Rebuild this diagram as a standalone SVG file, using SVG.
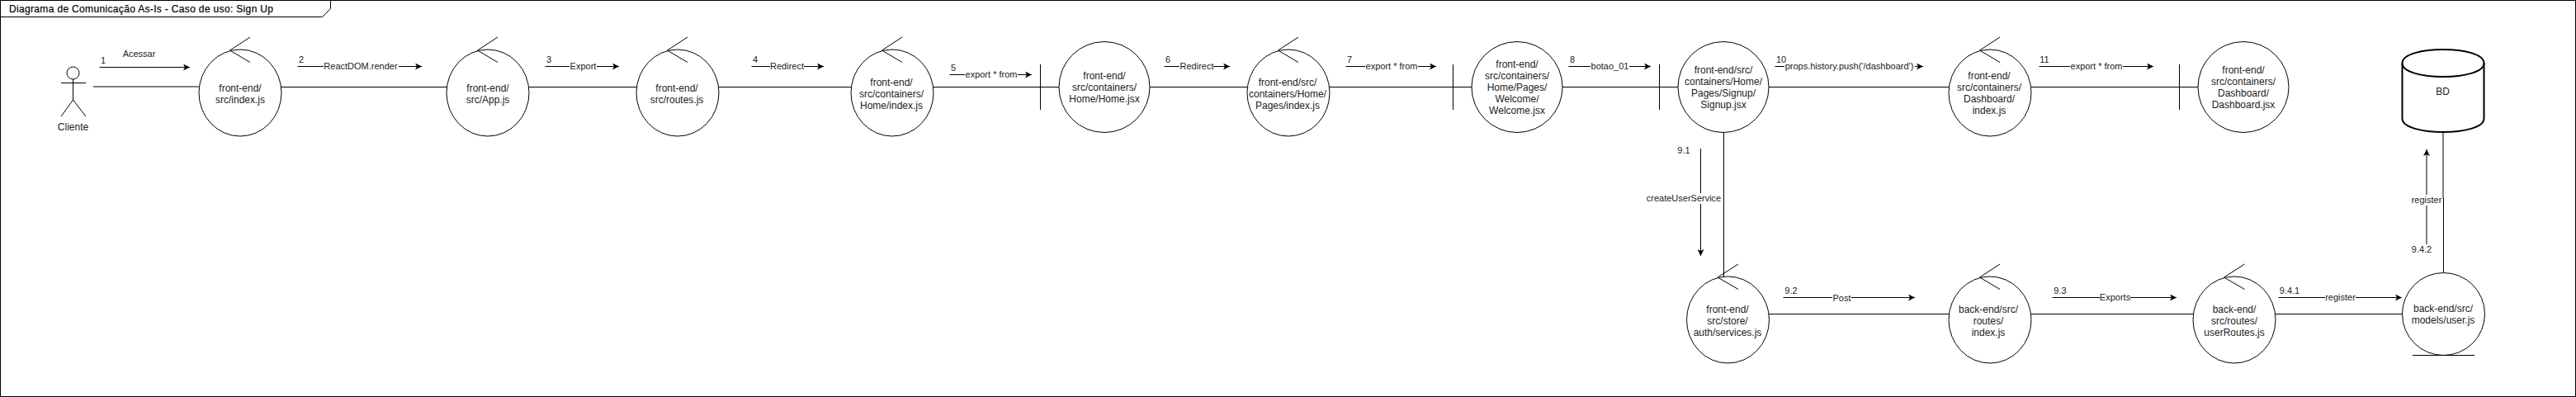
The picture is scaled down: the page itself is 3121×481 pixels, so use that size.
<svg xmlns="http://www.w3.org/2000/svg" width="3121" height="481" viewBox="0 0 3121 481">
<defs>
<marker id="arrow" markerUnits="userSpaceOnUse" viewBox="-8 -4 8 8" refX="0" refY="0" markerWidth="8" markerHeight="8" orient="auto"><path d="M-8,-4 L0,0 L-8,4 L-6,0 Z" fill="#000"/></marker>
</defs>
<style>
text{font-family:"Liberation Sans",Arial,sans-serif;fill:#222;text-anchor:middle;dominant-baseline:central}
.n{font-size:12px}
.e{font-size:11px}
.s{fill:#fff;stroke:#000;stroke-width:1}
.l{fill:none;stroke:#000;stroke-width:1}
.m{marker-end:url(#arrow)}
.b{fill:#fff;stroke:none}
</style>
<rect x="0.5" y="0.5" width="3120" height="480" fill="#fff" stroke="#000"/>
<g id="frame-title">
<path d="M0.5,0.5 H400.5 V10.5 L390.5,20.5 H0.5 Z" fill="#fff" stroke="#000"/>
<text x="171" y="11" class="n" textLength="320" lengthAdjust="spacing" style="fill:#000;stroke:#000;stroke-width:0.2">Diagrama de Comunicação As-Is - Caso de uso: Sign Up</text>
</g>
<g id="connectors">
<path class="l" d="M113,105 H241"/>
<path class="l" d="M341,105.5 H541 M641,105.5 H771 M871,105.5 H1031 M1131,105.5 H1283 M1393,105.5 H1511 M1611,105.5 H1783 M1893,105.5 H2033 M2143,105.5 H2361 M2461,105.5 H2663"/>
<path class="l" d="M2143,380.5 H2361 M2461,380.5 H2657 M2757,380.5 H2911"/>
<path class="l" d="M2088.5,160 V335"/>
<path class="l" d="M2960,160 V240 M2960.5,240 V330"/>
<path class="l m" d="M120.5,81.5 H230"/>
<path class="l m" d="M360.5,80.5 H511"/>
<path class="l m" d="M660.5,80.5 H750"/>
<path class="l m" d="M910.5,80.5 H998"/>
<path class="l m" d="M1150.5,90.5 H1250"/>
<path class="l m" d="M1410.5,80.5 H1490"/>
<path class="l m" d="M1630.5,80.5 H1740"/>
<path class="l m" d="M1900.5,80.5 H2000"/>
<path class="l m" d="M2150.5,80.5 H2330"/>
<path class="l m" d="M2470.5,80.5 H2609"/>
<path class="l m" d="M2060.5,180 V310"/>
<path class="l m" d="M2160.5,360.5 H2320"/>
<path class="l m" d="M2486.5,360.5 H2637"/>
<path class="l m" d="M2760.5,360.5 H2910"/>
<path class="l m" d="M2940,296 V181"/>
<rect class="b" x="392" y="74" width="91" height="13"/><text class="e" x="437" y="80">ReactDOM.render</text>
<rect class="b" x="690" y="74" width="33" height="13"/><text class="e" x="706.5" y="80">Export</text>
<rect class="b" x="933" y="74" width="41" height="13"/><text class="e" x="953.5" y="80">Redirect</text>
<rect class="b" x="1169" y="84" width="64" height="13"/><text class="e" x="1201" y="90">export * from</text>
<rect class="b" x="1429" y="74" width="41" height="13"/><text class="e" x="1450" y="80">Redirect</text>
<rect class="b" x="1654" y="74" width="64" height="13"/><text class="e" x="1686" y="80">export * from</text>
<rect class="b" x="1927" y="74" width="47" height="13"/><text class="e" x="1950.5" y="80">botao_01</text>
<rect class="b" x="2162" y="74" width="158" height="13"/><text class="e" x="2240.5" y="80">props.history.push('/dashboard')</text>
<rect class="b" x="2508" y="74" width="64" height="13"/><text class="e" x="2540" y="80">export * from</text>
<rect class="b" x="1995" y="234" width="90" height="13"/><text class="e" x="2040" y="240">createUserService</text>
<rect class="b" x="2220" y="354" width="23" height="13"/><text class="e" x="2231.5" y="361">Post</text>
<rect class="b" x="2544" y="354" width="37" height="13"/><text class="e" x="2562.5" y="360">Exports</text>
<rect class="b" x="2817" y="354" width="37" height="13"/><text class="e" x="2835.5" y="360">register</text>
<rect class="b" x="2922" y="236" width="37" height="13"/><text class="e" x="2940" y="242">register</text>
<text class="e" x="168.5" y="64.5">Acessar</text>
<text class="e" x="125" y="73">1</text>
<text class="e" x="365" y="72">2</text>
<text class="e" x="665" y="72">3</text>
<text class="e" x="915" y="72">4</text>
<text class="e" x="1155" y="82">5</text>
<text class="e" x="1415" y="72">6</text>
<text class="e" x="1635" y="72">7</text>
<text class="e" x="1905" y="72">8</text>
<text class="e" x="2158" y="72">10</text>
<text class="e" x="2477" y="72">11</text>
<text class="e" x="2040" y="182">9.1</text>
<text class="e" x="2170" y="352">9.2</text>
<text class="e" x="2496" y="352">9.3</text>
<text class="e" x="2774" y="352">9.4.1</text>
<text class="e" x="2934" y="302">9.4.2</text>
</g>
<g id="actor-cliente">
<ellipse class="s" cx="88.5" cy="88.5" rx="7.5" ry="7.5"/>
<path class="l" d="M88.5,96 V121 M74,100.5 H104 M88.5,121 L74,141 M88.5,121 L104,141"/>
<text class="n" x="88.5" y="154">Cliente</text>
</g>
<g id="node-index"><ellipse class="s" cx="291" cy="112.5" rx="50" ry="52.5"/><path class="l" d="M303,45 L278.5,61 L303,75.5"/><text class="n" x="291" y="107">front-end/</text><text class="n" x="291" y="121">src/index.js</text></g>
<g id="node-app"><ellipse class="s" cx="591" cy="112.5" rx="50" ry="52.5"/><path class="l" d="M603,45 L578.5,61 L603,75.5"/><text class="n" x="591" y="107">front-end/</text><text class="n" x="591" y="121">src/App.js</text></g>
<g id="node-routes"><ellipse class="s" cx="821" cy="112.5" rx="50" ry="52.5"/><path class="l" d="M833,45 L808.5,61 L833,75.5"/><text class="n" x="820" y="107">front-end/</text><text class="n" x="820" y="121">src/routes.js</text></g>
<g id="node-home-index"><ellipse class="s" cx="1081" cy="112.5" rx="50" ry="52.5"/><path class="l" d="M1093,45 L1068.5,61 L1093,75.5"/><text class="n" x="1080" y="100">front-end/</text><text class="n" x="1080" y="114">src/containers/</text><text class="n" x="1080" y="128">Home/index.js</text></g>
<g id="node-home-jsx"><path class="l" d="M1260.5,78 V133"/><circle class="s" cx="1338" cy="105.5" r="55"/><text class="n" x="1338" y="91.5">front-end/</text><text class="n" x="1338" y="105.5">src/containers/</text><text class="n" x="1338" y="119.5">Home/Home.jsx</text></g>
<g id="node-pages-index"><ellipse class="s" cx="1561" cy="112.5" rx="50" ry="52.5"/><path class="l" d="M1573,45 L1548.5,61 L1573,75.5"/><text class="n" x="1560" y="100">front-end/src/</text><text class="n" x="1560" y="114">containers/Home/</text><text class="n" x="1560" y="128">Pages/index.js</text></g>
<g id="node-welcome"><path class="l" d="M1760.5,78 V133"/><circle class="s" cx="1838" cy="105.5" r="55"/><text class="n" x="1838" y="78">front-end/</text><text class="n" x="1838" y="92">src/containers/</text><text class="n" x="1838" y="106">Home/Pages/</text><text class="n" x="1838" y="120">Welcome/</text><text class="n" x="1838" y="134">Welcome.jsx</text></g>
<g id="node-signup"><path class="l" d="M2010.5,78 V133"/><circle class="s" cx="2088" cy="105.5" r="55"/><text class="n" x="2088" y="85">front-end/src/</text><text class="n" x="2088" y="99">containers/Home/</text><text class="n" x="2088" y="113">Pages/Signup/</text><text class="n" x="2088" y="127">Signup.jsx</text></g>
<g id="node-dashboard-index"><ellipse class="s" cx="2411" cy="112.5" rx="50" ry="52.5"/><path class="l" d="M2423,45 L2398.5,61 L2423,75.5"/><text class="n" x="2410" y="92">front-end/</text><text class="n" x="2410" y="106">src/containers/</text><text class="n" x="2410" y="120">Dashboard/</text><text class="n" x="2410" y="134">index.js</text></g>
<g id="node-dashboard-jsx"><path class="l" d="M2640.5,78 V133"/><circle class="s" cx="2718" cy="105.5" r="55"/><text class="n" x="2718" y="85">front-end/</text><text class="n" x="2718" y="99">src/containers/</text><text class="n" x="2718" y="113">Dashboard/</text><text class="n" x="2718" y="127">Dashboard.jsx</text></g>
<g id="node-bd"><path d="M2910.5,76.5 C2910.5,54.5 3009.5,54.5 3009.5,76.5 V143.5 C3009.5,165.5 2910.5,165.5 2910.5,143.5 Z" fill="#fff" stroke="#000" stroke-width="2"/><path d="M2910.5,76.5 C2910.5,98.5 3009.5,98.5 3009.5,76.5" fill="none" stroke="#000" stroke-width="2"/><text class="n" x="2959.5" y="111">BD</text></g>
<g id="node-services"><ellipse class="s" cx="2093.5" cy="387.5" rx="50" ry="52.5"/><path class="l" d="M2106,320 L2081,336 L2106,350.5"/><text class="n" x="2093" y="375">front-end/</text><text class="n" x="2093" y="389">src/store/</text><text class="n" x="2093" y="403">auth/services.js</text></g>
<g id="node-routes-index"><ellipse class="s" cx="2411" cy="387.5" rx="50" ry="52.5"/><path class="l" d="M2423,320 L2398.5,336 L2423,350.5"/><text class="n" x="2409" y="375">back-end/src/</text><text class="n" x="2409" y="389">routes/</text><text class="n" x="2409" y="403">index.js</text></g>
<g id="node-user-routes"><ellipse class="s" cx="2707" cy="387.5" rx="50" ry="52.5"/><path class="l" d="M2719.5,320 L2694.5,336 L2719.5,350.5"/><text class="n" x="2707" y="375">back-end/</text><text class="n" x="2707" y="389">src/routes/</text><text class="n" x="2707" y="403">userRoutes.js</text></g>
<g id="node-user-model"><circle class="s" cx="2960.5" cy="380.5" r="50"/><path class="l" d="M2923,430.5 H2998"/><text class="n" x="2960" y="374">back-end/src/</text><text class="n" x="2960" y="388">models/user.js</text></g>
</svg>
